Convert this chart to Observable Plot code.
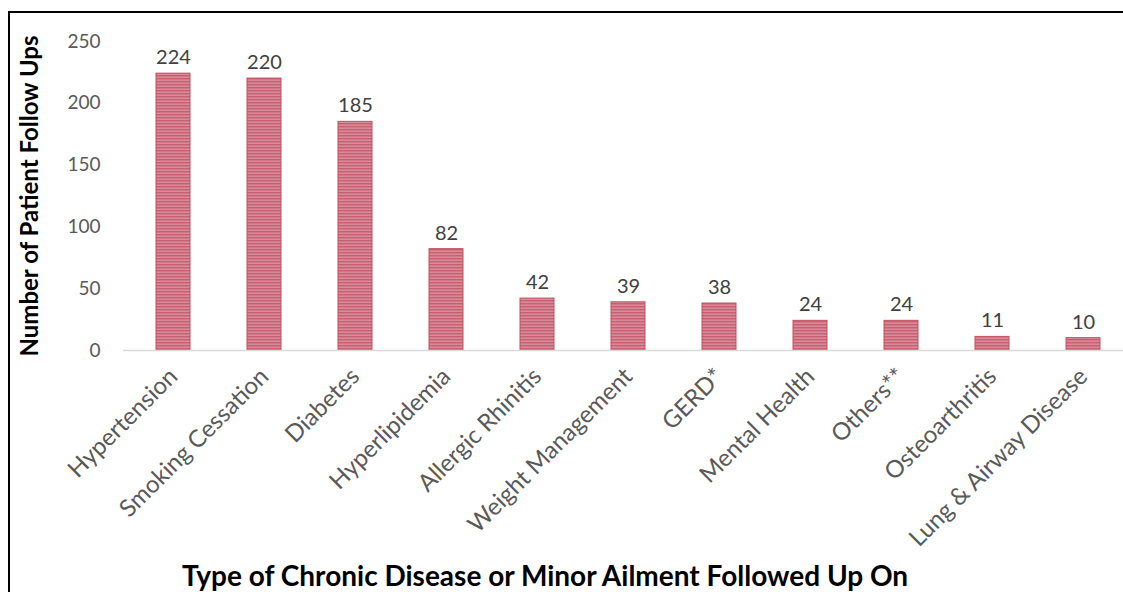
<!DOCTYPE html>
<html>
<head>
<meta charset="utf-8">
<script src="https://cdn.jsdelivr.net/npm/d3@7"></script>
<script src="https://cdn.jsdelivr.net/npm/@observablehq/plot@0.6"></script>
<style>
  html, body { margin: 0; padding: 0; background: #fff; }
  body { width: 1123px; height: 592px; position: relative; overflow: hidden; font-family: Lato, "Open Sans", sans-serif; }
  #frameTop { position: absolute; left: 9px; top: 11px; width: 1114px; height: 2px; background: #000; }
  #frameLeft { position: absolute; left: 8px; top: 11px; width: 2px; height: 581px; background: #000; }
  #chart { position: absolute; left: 0; top: 0; }
  #xtitle { position: absolute; left: 0; top: 558px; width: 1090px; text-align: center; font-weight: bold; font-size: 28px; color: #000; line-height: 34px; }
</style>
</head>
<body>
<div id="chart"></div>
<div id="frameTop"></div>
<div id="frameLeft"></div>
<div id="xtitle">Type of Chronic Disease or Minor Ailment Followed Up On</div>
<script>
const categories = ["Hypertension", "Smoking Cessation", "Diabetes", "Hyperlipidemia", "Allergic Rhinitis", "Weight Management", "GERD*", "Mental Health", "Others**", "Osteoarthritis", "Lung & Airway Disease"];
const values = [224, 220, 185, 82, 42, 39, 38, 24, 24, 11, 10];
const yTicks = [0, 50, 100, 150, 200, 250];
const yTitle = "Number of Patient Follow Ups";

const data = categories.map((c, i) => ({category: c, value: values[i]}));

const plot = Plot.plot({
  width: 1123,
  height: 555,
  marginTop: 41,
  marginBottom: 205,
  marginLeft: 123,
  marginRight: -10,
  style: {fontFamily: "Lato, 'Open Sans', sans-serif", background: "transparent"},
  x: {domain: categories, paddingInner: 0.63, paddingOuter: 0.315, label: null},
  y: {domain: [0, 250], label: null},
  marks: [
    Plot.axisY({ticks: yTicks, tickSize: 0, tickPadding: 23, fontSize: 19, color: "#595959", label: null}),
    Plot.axisX({tickSize: 0, tickRotate: -45, tickPadding: 22, fontSize: 24, color: "#595959", label: null}),
    Plot.barY(data, {x: "category", y: "value", fill: "url(#stripes)", stroke: "#c4505f", strokeWidth: 1}),
    Plot.ruleY([0], {stroke: "#d9d9d9", strokeWidth: 1.5}),
    Plot.text(data, {x: "category", y: "value", text: d => String(d.value), dy: -16, fontSize: 20, fill: "#404040"}),
    Plot.text([yTitle], {frameAnchor: "left", textAnchor: "middle", dx: -93, rotate: -90, fontSize: 24, fontWeight: "bold", fill: "#000"})
  ]
});

const svgns = "http://www.w3.org/2000/svg";
const defs = document.createElementNS(svgns, "defs");
const pat = document.createElementNS(svgns, "pattern");
pat.setAttribute("id", "stripes");
pat.setAttribute("patternUnits", "userSpaceOnUse");
pat.setAttribute("width", "8");
pat.setAttribute("height", "3");
const r1 = document.createElementNS(svgns, "rect");
r1.setAttribute("width", "8"); r1.setAttribute("height", "3"); r1.setAttribute("fill", "#d8899a");
const r2 = document.createElementNS(svgns, "rect");
r2.setAttribute("width", "8"); r2.setAttribute("height", "1.4"); r2.setAttribute("fill", "#c8616f");
pat.appendChild(r1); pat.appendChild(r2);
defs.appendChild(pat);
plot.insertBefore(defs, plot.firstChild);
plot.style.overflow = "visible";

document.getElementById("chart").appendChild(plot);
</script>
</body>
</html>
